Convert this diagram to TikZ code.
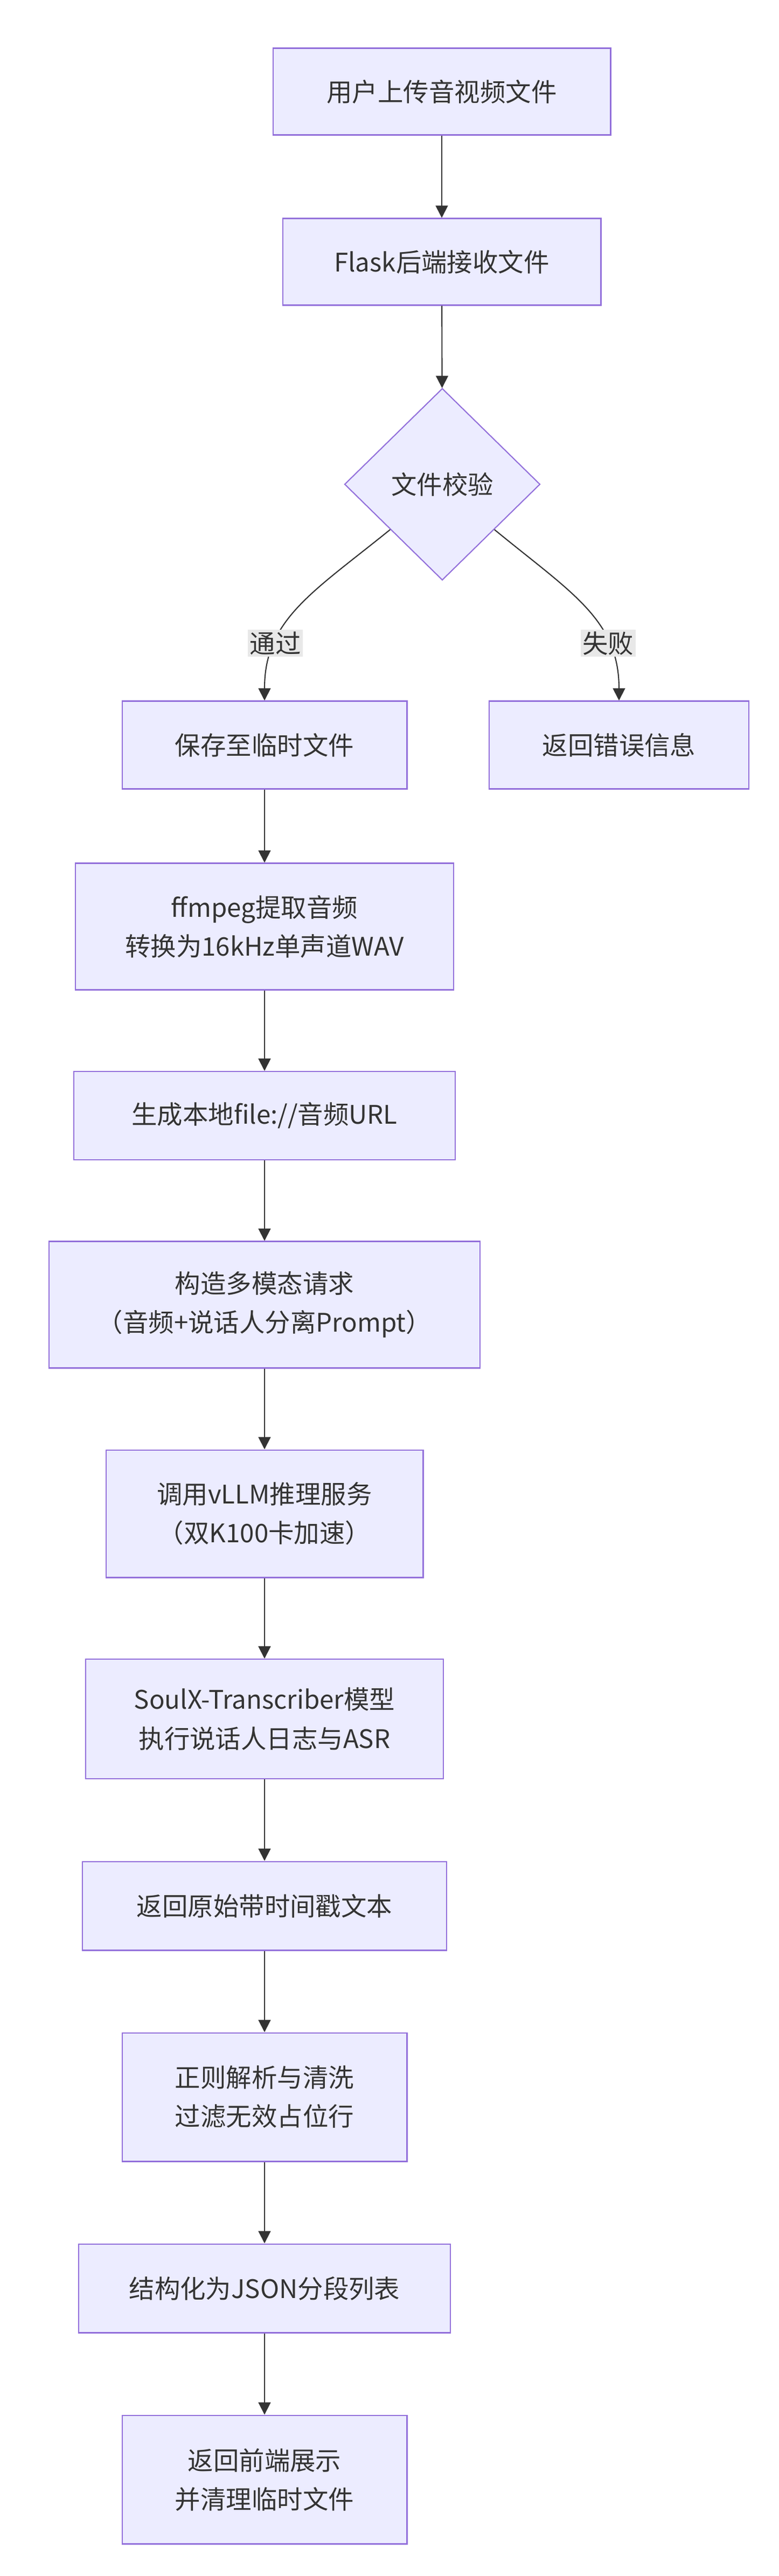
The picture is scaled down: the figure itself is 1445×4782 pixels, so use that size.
\documentclass[tikz,border=0pt]{standalone}
\usepackage{fontspec}
\setmainfont{Noto Sans CJK SC}
\usetikzlibrary{shapes.geometric,arrows.meta}
\definecolor{boxfill}{HTML}{ECECFF}
\definecolor{boxline}{HTML}{9370DB}
\definecolor{txt}{HTML}{333333}
\definecolor{lblbg}{HTML}{E8E8E8}
\tikzset{
  flowbox/.style={draw=boxline, fill=boxfill, line width=1.2pt, text=txt, align=center,
    font=\fontsize{27}{41}\selectfont, inner sep=0pt},
  check/.style={flowbox, diamond, aspect=1, minimum width=7.26cm, minimum height=7.12cm},
  arr/.style={draw=txt, line width=1.2pt, -{Triangle[length=13pt,width=13pt]}},
  lbl/.style={fill=lblbg, text=txt, font=\fontsize{27}{30}\selectfont, inner sep=2pt}
}
\begin{document}
\begin{tikzpicture}[x=0.02cm,y=-0.02cm]
		\useasboundingbox (0,0) rectangle (1445,4782);
		\fill[white] (0,0) rectangle (1445,4782);

		\node[flowbox, minimum width=12.54cm, minimum height=3.22cm] (upload) at (820,170) {用户上传音视频文件};
		\node[flowbox, minimum width=11.82cm, minimum height=3.22cm] (recv) at (820,486) {Flask后端接收文件};
		\node[check] (chk) at (821,899) {文件校验};

		\node[flowbox, minimum width=10.58cm, minimum height=3.26cm] (save) at (491,1383) {保存至临时文件};
		\node[flowbox, minimum width=9.64cm, minimum height=3.26cm] (err) at (1149,1383) {返回错误信息};

		\node[flowbox, minimum width=14.04cm, minimum height=4.7cm] (ffmpeg) at (491,1720) {ffmpeg提取音频\\转换为16kHz单声道WAV};
		\node[flowbox, minimum width=14.16cm, minimum height=3.28cm] (url) at (491,2071) {生成本地file://音频URL};
		\node[flowbox, minimum width=16cm, minimum height=4.7cm] (req) at (491,2422) {构造多模态请求\\（音频+说话人分离Prompt）};
		\node[flowbox, minimum width=11.78cm, minimum height=4.74cm] (vllm) at (491,2810) {调用vLLM推理服务\\（双K100卡加速）};
		\node[flowbox, minimum width=13.3cm, minimum height=4.44cm] (soulx) at (491,3191) {SoulX-Transcriber模型\\执行说话人日志与ASR};
		\node[flowbox, minimum width=13.54cm, minimum height=3.3cm] (raw) at (491,3538) {返回原始带时间戳文本};
		\node[flowbox, minimum width=10.58cm, minimum height=4.78cm] (clean) at (491,3893) {正则解析与清洗\\过滤无效占位行};
		\node[flowbox, minimum width=13.8cm, minimum height=3.3cm] (json) at (491,4248) {结构化为JSON分段列表};
		\node[flowbox, minimum width=10.58cm, minimum height=4.78cm] (front) at (491,4603) {返回前端展示\\并清理临时文件};

		\draw[arr] (upload) -- (recv);
		\draw[arr] (recv) -- (chk);
		\draw[arr] (chk.221) .. controls (580,1100) and (491,1150) .. node[lbl, pos=0.72] {通过} (save.north);
		\draw[arr] (chk.319) .. controls (1060,1100) and (1149,1150) .. node[lbl, pos=0.72] {失败} (err.north);

		\draw[arr] (save) -- (ffmpeg);
		\draw[arr] (ffmpeg) -- (url);
		\draw[arr] (url) -- (req);
		\draw[arr] (req) -- (vllm);
		\draw[arr] (vllm) -- (soulx);
		\draw[arr] (soulx) -- (raw);
		\draw[arr] (raw) -- (clean);
		\draw[arr] (clean) -- (json);
		\draw[arr] (json) -- (front);

	\end{tikzpicture}
\end{document}
